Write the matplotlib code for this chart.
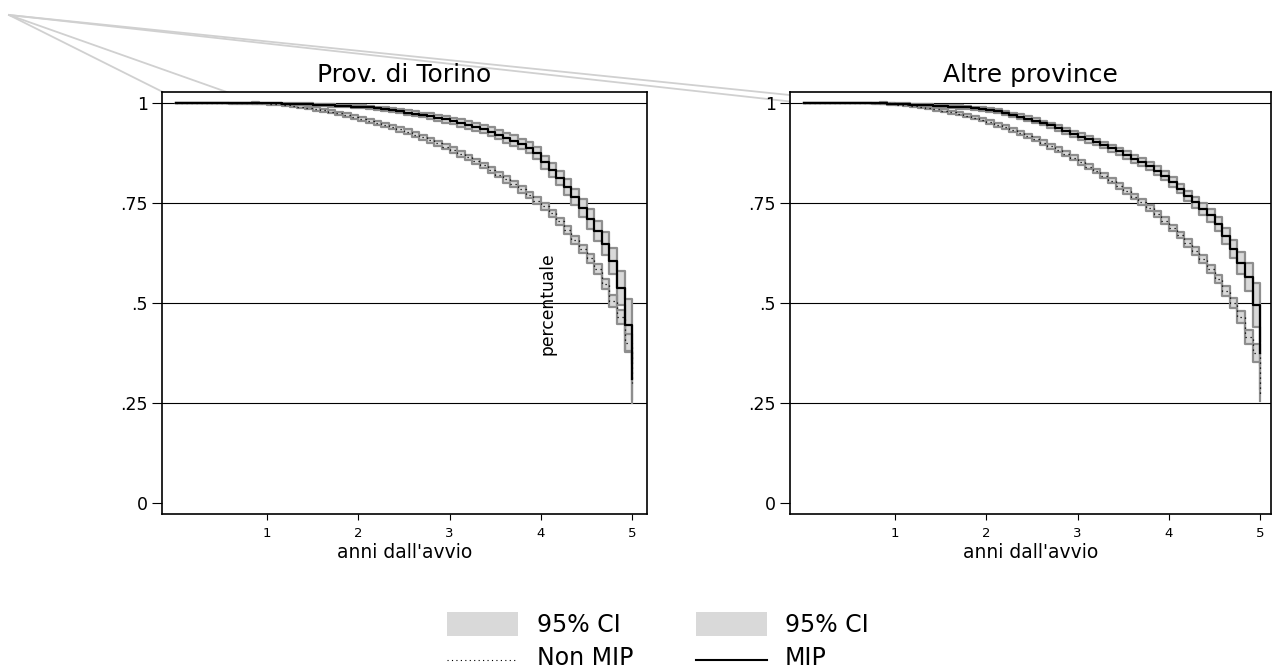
import numpy as np
import matplotlib
matplotlib.use("Agg")
import matplotlib.pyplot as plt
from matplotlib.patches import Rectangle
from matplotlib.lines import Line2D

plt.rcParams['font.family'] = ['DejaVu Sans']

# ---------------- data (monthly steps, t = k/12, k = 0..60) ----------------
months = list(range(61))
panel_titles = ["Prov. di Torino", "Altre province"]
series_names = ["Non MIP", "MIP"]
x_ticks = [1, 2, 3, 4, 5]
y_ticks = [0, 0.25, 0.5, 0.75, 1.0]
y_tick_labels = ["0", ".25", ".5", ".75", "1"]

torino_mip = [1.000, 1.000, 1.000, 1.000, 1.000, 1.000, 1.000, 0.999, 0.999, 0.999, 0.999, 0.999, 0.999,
              0.999, 0.998, 0.998, 0.997, 0.997, 0.996, 0.995, 0.994, 0.993, 0.992, 0.991, 0.991,
              0.989, 0.987, 0.985, 0.982, 0.979, 0.976, 0.973, 0.970, 0.967, 0.963, 0.959, 0.955,
              0.950, 0.945, 0.940, 0.934, 0.928, 0.921, 0.913, 0.906, 0.898, 0.888, 0.876, 0.852,
              0.833, 0.812, 0.790, 0.765, 0.738, 0.710, 0.680, 0.648, 0.605, 0.537, 0.445, 0.310]
torino_mip_hw = [0.000, 0.000, 0.000, 0.000, 0.000, 0.001, 0.001, 0.001, 0.001, 0.001, 0.001, 0.001, 0.001,
                 0.001, 0.002, 0.002, 0.002, 0.002, 0.002, 0.003, 0.003, 0.003, 0.003, 0.004, 0.004,
                 0.004, 0.004, 0.005, 0.005, 0.005, 0.006, 0.006, 0.006, 0.007, 0.007, 0.008, 0.008,
                 0.009, 0.009, 0.010, 0.010, 0.011, 0.011, 0.012, 0.013, 0.013, 0.014, 0.015, 0.016,
                 0.017, 0.018, 0.019, 0.021, 0.022, 0.024, 0.026, 0.029, 0.033, 0.043, 0.065, 0.050]
torino_non = [1.000, 1.000, 1.000, 1.000, 1.000, 1.000, 1.000, 1.000, 1.000, 1.000, 1.000, 0.999, 0.998,
              0.997, 0.995, 0.993, 0.991, 0.988, 0.985, 0.982, 0.978, 0.974, 0.970, 0.965, 0.960,
              0.955, 0.950, 0.945, 0.940, 0.934, 0.928, 0.921, 0.914, 0.907, 0.899, 0.891, 0.882,
              0.873, 0.864, 0.854, 0.844, 0.833, 0.821, 0.809, 0.797, 0.784, 0.770, 0.756, 0.742,
              0.724, 0.704, 0.682, 0.658, 0.635, 0.612, 0.585, 0.548, 0.505, 0.465, 0.400, 0.300]
torino_non_hw = [0.000, 0.000, 0.000, 0.000, 0.000, 0.001, 0.001, 0.001, 0.001, 0.001, 0.002, 0.002, 0.002,
                 0.002, 0.003, 0.003, 0.003, 0.003, 0.004, 0.004, 0.004, 0.004, 0.005, 0.005, 0.005,
                 0.005, 0.005, 0.005, 0.006, 0.006, 0.006, 0.006, 0.006, 0.006, 0.006, 0.006, 0.007,
                 0.007, 0.007, 0.007, 0.007, 0.007, 0.007, 0.008, 0.008, 0.008, 0.008, 0.008, 0.009,
                 0.009, 0.009, 0.010, 0.010, 0.011, 0.011, 0.012, 0.013, 0.015, 0.017, 0.022, 0.050]
altre_mip = [1.000, 1.000, 1.000, 1.000, 1.000, 1.000, 1.000, 1.000, 1.000, 0.999, 0.999, 0.998, 0.998,
             0.997, 0.996, 0.995, 0.994, 0.993, 0.992, 0.991, 0.990, 0.989, 0.987, 0.985, 0.982,
             0.979, 0.975, 0.971, 0.966, 0.961, 0.956, 0.950, 0.944, 0.937, 0.930, 0.923, 0.916,
             0.909, 0.902, 0.895, 0.887, 0.879, 0.870, 0.861, 0.852, 0.842, 0.831, 0.818, 0.803,
             0.786, 0.768, 0.752, 0.736, 0.719, 0.697, 0.668, 0.635, 0.600, 0.565, 0.495, 0.375]
altre_mip_hw = [0.000, 0.000, 0.000, 0.000, 0.000, 0.001, 0.001, 0.001, 0.001, 0.001, 0.001, 0.002, 0.002,
                0.002, 0.002, 0.002, 0.003, 0.003, 0.003, 0.003, 0.004, 0.004, 0.004, 0.004, 0.005,
                0.005, 0.005, 0.005, 0.006, 0.006, 0.006, 0.006, 0.007, 0.007, 0.007, 0.007, 0.008,
                0.008, 0.008, 0.008, 0.009, 0.009, 0.009, 0.010, 0.010, 0.010, 0.011, 0.011, 0.012,
                0.012, 0.013, 0.014, 0.015, 0.016, 0.018, 0.020, 0.023, 0.027, 0.034, 0.055, 0.030]
altre_non = [1.000, 1.000, 1.000, 1.000, 1.000, 1.000, 1.000, 1.000, 1.000, 1.000, 1.000, 0.999, 0.996,
             0.994, 0.992, 0.990, 0.987, 0.984, 0.981, 0.977, 0.973, 0.968, 0.963, 0.958, 0.952,
             0.946, 0.940, 0.933, 0.926, 0.918, 0.910, 0.901, 0.892, 0.883, 0.873, 0.863, 0.852,
             0.841, 0.830, 0.818, 0.806, 0.793, 0.780, 0.766, 0.752, 0.737, 0.722, 0.706, 0.688,
             0.670, 0.650, 0.630, 0.610, 0.585, 0.560, 0.530, 0.500, 0.465, 0.415, 0.375, 0.270]
altre_non_hw = [0.000, 0.000, 0.000, 0.000, 0.000, 0.001, 0.001, 0.001, 0.001, 0.001, 0.002, 0.002, 0.002,
                0.002, 0.003, 0.003, 0.003, 0.003, 0.003, 0.004, 0.004, 0.004, 0.004, 0.004, 0.005,
                0.005, 0.005, 0.005, 0.005, 0.005, 0.005, 0.006, 0.006, 0.006, 0.006, 0.006, 0.006,
                0.006, 0.006, 0.006, 0.007, 0.007, 0.007, 0.007, 0.007, 0.007, 0.008, 0.008, 0.008,
                0.008, 0.009, 0.009, 0.010, 0.010, 0.011, 0.012, 0.013, 0.015, 0.017, 0.023, 0.015]

# start points of the stray grey polygon lines (data coords, per panel)
stray_targets = [(0, 0.10, 1.0), (0, 0.90, 1.0), (1, 0.00, 1.0), (1, 0.70, 1.0)]

# ---------------- styling ----------------
FILL = "#d9d9d9"
EDGE = "#8e8e8e"
W, H = 1273, 669
fig = plt.figure(figsize=(W / 100, H / 100), dpi=100)

def fx(px):
    return px / W

def fy(py):
    return 1 - py / H

axes_px = [(162, 647), (790, 1271)]
top_px, bot_px = 92, 514
panels = [(torino_non, torino_non_hw, torino_mip, torino_mip_hw),
          (altre_non, altre_non_hw, altre_mip, altre_mip_hw)]

t = np.array(months) / 12.0
axes = []
for i, (x0, x1) in enumerate(axes_px):
    ax = fig.add_axes([fx(x0), fy(bot_px), fx(x1) - fx(x0), fy(top_px) - fy(bot_px)])
    axes.append(ax)
    xr = -0.15 + (x1 - x0) / 91.3
    ax.set_xlim(-0.15, xr)
    ax.set_ylim(-0.0275, 1.0275)
    for yv in y_ticks[1:]:
        ax.axhline(yv, color="black", lw=0.8, zorder=1)
    non, non_hw, mip, mip_hw = panels[i]
    for s, hw, is_mip in [(non, non_hw, False), (mip, mip_hw, True)]:
        s = np.array(s)
        hw = np.array(hw)
        lo = s - hw
        hi = s + hw
        ax.fill_between(t, lo, hi, step="post", color=FILL, lw=0, zorder=2)
        ax.plot(t, lo, drawstyle="steps-post", color=EDGE, lw=1.6, zorder=3)
        ax.plot(t, hi, drawstyle="steps-post", color=EDGE, lw=1.6, zorder=3)
        if is_mip:
            ax.plot(t, s, drawstyle="steps-post", color="black", lw=1.6, zorder=4)
        else:
            ax.plot(t, s, drawstyle="steps-post", color="black", lw=0.9,
                    linestyle=(0, (1, 3)), zorder=4)
    ax.set_yticks(y_ticks)
    ax.set_yticklabels(y_tick_labels, fontsize=12.5)
    ax.set_xticks(x_ticks)
    ax.set_xticklabels([str(v) for v in x_ticks], fontsize=9.5)
    ax.tick_params(axis="y", direction="out", length=7.5, width=0.8, pad=2.5)
    ax.tick_params(axis="x", direction="out", length=4.5, width=0.8, pad=5)
    for sp in ax.spines.values():
        sp.set_linewidth(1.2)
    ax.set_title(panel_titles[i], fontsize=18, pad=7)
    ax.set_xlabel("anni dall'avvio", fontsize=13.5, labelpad=2)

# y title placed inside left panel, as in reference
fig.text(fx(547), fy(304), "percentuale", rotation=90, fontsize=12.3,
         ha="center", va="center")

# stray grey lines from the top-left corner
origin = (fx(9), fy(15))
inv = fig.transFigure.inverted()
for pi, xd, yd in stray_targets:
    end = inv.transform(axes[pi].transData.transform((xd, yd)))
    fig.add_artist(Line2D([origin[0], end[0]], [origin[1], end[1]],
                          transform=fig.transFigure, color="#d0d0d0", lw=1.3, zorder=0))

# legend (manual, in figure coordinates)
legend_cols = [(447, 518, 537), (696, 767, 785)]
row1_base, row2_base, row2_line = 632, 665, 660
for (p0, p1, tx), name, solid in zip(legend_cols, series_names, [False, True]):
    fig.add_artist(Rectangle((fx(p0), fy(636)), fx(p1) - fx(p0), fy(612) - fy(636),
                             transform=fig.transFigure, facecolor=FILL, edgecolor="none"))
    fig.text(fx(tx), fy(row1_base), "95% CI", fontsize=17, ha="left", va="baseline")
    if solid:
        fig.add_artist(Line2D([fx(p0), fx(p1)], [fy(row2_line), fy(row2_line)],
                              transform=fig.transFigure, color="black", lw=1.5))
    else:
        fig.add_artist(Line2D([fx(p0), fx(p1)], [fy(row2_line), fy(row2_line)],
                              transform=fig.transFigure, color="black", lw=0.8,
                              linestyle=(0, (1, 3))))
    fig.text(fx(tx), fy(row2_base), name, fontsize=17, ha="left", va="baseline")

fig.savefig("out.png", dpi=100)
